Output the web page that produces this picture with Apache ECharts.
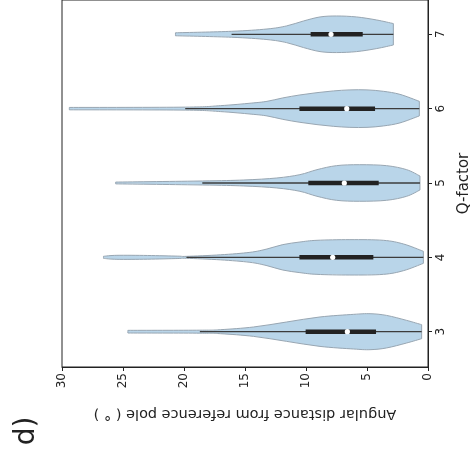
<!DOCTYPE html>
<html>
<head>
<meta charset="utf-8">
<script src="https://cdn.jsdelivr.net/npm/echarts@6/dist/echarts.min.js"></script>
<style>
  html, body { margin: 0; padding: 0; background: #fff; }
  #chart { width: 472px; height: 457px; }
</style>
</head>
<body>
<div id="chart"></div>
<script>
// Q-factor groups shown on the category axis
const qFactors = [3, 4, 5, 6, 7];
const distanceTicks = [0, 5, 10, 15, 20, 25, 30];

// Violin outlines: [angular distance (deg), half width (fraction of one Q step)]
const violinQ3 = [[24.6, 0.018], [18.7, 0.020], [17.0, 0.027], [14.3, 0.063], [11.6, 0.130],
  [8.85, 0.198], [6.1, 0.233], [4.75, 0.242], [3.4, 0.219], [1.75, 0.152], [0.52, 0.094]];
const violinQ4 = [[26.6, 0.014], [25.5, 0.027], [23.0, 0.025], [20.5, 0.016], [19.8, 0.013],
  [17.0, 0.034], [14.6, 0.067], [13.2, 0.112], [11.9, 0.171], [10.5, 0.206], [9.1, 0.229],
  [6.4, 0.238], [3.66, 0.229], [2.0, 0.179], [0.38, 0.081]];
const violinQ5 = [[25.6, 0.012], [18.5, 0.027], [15.1, 0.040], [12.4, 0.067], [10.5, 0.112],
  [9.1, 0.179], [7.5, 0.233], [5.6, 0.246], [3.4, 0.233], [1.75, 0.179], [0.66, 0.094]];
const violinQ6 = [[29.4, 0.016], [19.9, 0.020], [17.0, 0.040], [14.5, 0.074], [13.2, 0.098],
  [11.9, 0.144], [10.5, 0.184], [9.1, 0.215], [7.76, 0.238], [6.4, 0.252], [5.0, 0.252],
  [3.66, 0.233], [2.3, 0.192], [0.71, 0.098]];
const violinQ7 = [[20.7, 0.020], [16.1, 0.040], [13.2, 0.071], [11.6, 0.112], [10.2, 0.179],
  [8.85, 0.233], [7.5, 0.246], [5.85, 0.233], [4.2, 0.192], [2.84, 0.144]];

// Box summaries: [lower whisker, Q1, median, Q3, upper whisker]
const boxQ3 = [0.52, 4.26, 6.61, 10.03, 18.7];
const boxQ4 = [0.38, 4.48, 7.81, 10.54, 19.8];
const boxQ5 = [0.66, 4.04, 6.86, 9.81, 18.5];
const boxQ6 = [0.71, 4.34, 6.66, 10.54, 19.9];
const boxQ7 = [2.84, 5.35, 7.95, 9.62, 16.1];

const outlines = [violinQ3, violinQ4, violinQ5, violinQ6, violinQ7];
const boxes = [boxQ3, boxQ4, boxQ5, boxQ6, boxQ7];

const FONT = 'DejaVu Sans';
const chart = echarts.init(document.getElementById('chart'), null, { renderer: 'canvas' });

// Smooth curve through pixel points (Catmull-Rom as cubic Bezier segments)
function curveThrough(pts) {
  let d = '';
  for (let k = 0; k < pts.length - 1; k++) {
    const p0 = pts[Math.max(k - 1, 0)];
    const p1 = pts[k];
    const p2 = pts[k + 1];
    const p3 = pts[Math.min(k + 2, pts.length - 1)];
    const c1x = p1[0] + (p2[0] - p0[0]) / 6, c1y = p1[1] + (p2[1] - p0[1]) / 6;
    const c2x = p2[0] - (p3[0] - p1[0]) / 6, c2y = p2[1] - (p3[1] - p1[1]) / 6;
    d += ' C' + c1x + ' ' + c1y + ' ' + c2x + ' ' + c2y + ' ' + p2[0] + ' ' + p2[1];
  }
  return d;
}

function renderViolin(params, api) {
  const i = api.value(0);
  const q = qFactors[i];
  const outline = outlines[i];
  const box = boxes[i];
  const upper = outline.map(p => api.coord([p[0], q + p[1]]));
  const lower = outline.slice().reverse().map(p => api.coord([p[0], q - p[1]]));
  const tip = api.coord([outline[0][0], q]);
  const d = 'M' + tip[0] + ' ' + tip[1] +
    ' L' + upper[0][0] + ' ' + upper[0][1] + curveThrough(upper) +
    ' L' + lower[0][0] + ' ' + lower[0][1] + curveThrough(lower) + ' Z';
  const lo = api.coord([box[0], q]);
  const hi = api.coord([box[4], q]);
  const q1 = api.coord([box[1], q]);
  const q3 = api.coord([box[3], q]);
  const med = api.coord([box[2], q]);
  return {
    type: 'group',
    children: [
      {
        type: 'path',
        shape: { pathData: d },
        style: { fill: '#b9d5e9', stroke: '#98a6b2', lineWidth: 1 }
      },
      {
        type: 'line',
        shape: { x1: hi[0], y1: hi[1], x2: lo[0], y2: lo[1] },
        style: { stroke: '#3c3c3c', lineWidth: 1.3 }
      },
      {
        type: 'line',
        shape: { x1: q3[0], y1: q3[1], x2: q1[0], y2: q1[1] },
        style: { stroke: '#222222', lineWidth: 4.5 }
      },
      {
        type: 'circle',
        shape: { cx: med[0], cy: med[1], r: 2.6 },
        style: { fill: '#ffffff', stroke: null }
      }
    ]
  };
}

chart.setOption({
  animation: false,
  backgroundColor: '#ffffff',
  textStyle: { fontFamily: FONT },
  grid: {
    left: 62, right: 44, top: 0, bottom: 90,
    containLabel: false,
    outerBoundsMode: 'none',
    show: true, borderColor: '#222222', borderWidth: 1, backgroundColor: 'transparent'
  },
  xAxis: {
    type: 'value',
    inverse: true,
    min: 0, max: 30, interval: 5,
    name: 'Angular distance from reference pole ( ° )',
    nameLocation: 'middle',
    nameRotate: 180,
    nameGap: 39,
    nameTextStyle: { fontFamily: FONT, fontSize: 14.5, color: '#222222' },
    axisLine: { show: true, lineStyle: { color: '#222222', width: 1 } },
    axisTick: { show: true, inside: false, length: 4, lineStyle: { color: '#222222' } },
    axisLabel: {
      rotate: 90, margin: 6, fontFamily: FONT, fontSize: 12, color: '#222222',
      formatter: v => distanceTicks.includes(v) ? String(v) : ''
    },
    splitLine: { show: false }
  },
  yAxis: {
    type: 'value',
    position: 'right',
    min: 2.525, max: 7.461,
    name: 'Q-factor',
    nameLocation: 'middle',
    nameRotate: 90,
    nameGap: 29,
    nameTextStyle: { fontFamily: FONT, fontSize: 15, color: '#222222' },
    axisLine: { show: true, lineStyle: { color: '#222222', width: 1 } },
    axisTick: { show: true, inside: false, length: 4, customValues: qFactors, lineStyle: { color: '#222222' } },
    axisLabel: {
      rotate: 90, margin: 7, fontFamily: FONT, fontSize: 12, color: '#222222',
      customValues: qFactors, formatter: v => String(v)
    },
    splitLine: { show: false }
  },
  graphic: [{
    type: 'text',
    x: 27, y: 431,
    rotation: Math.PI / 2,
    style: {
      text: 'd)', font: '28px "DejaVu Sans"', fill: '#222222',
      textAlign: 'center', textVerticalAlign: 'middle'
    }
  }],
  series: [{
    type: 'custom',
    renderItem: renderViolin,
    data: qFactors.map((q, i) => [i]),
    encode: { x: -1, y: -1 },
    clip: false
  }]
});
</script>
</body>
</html>
